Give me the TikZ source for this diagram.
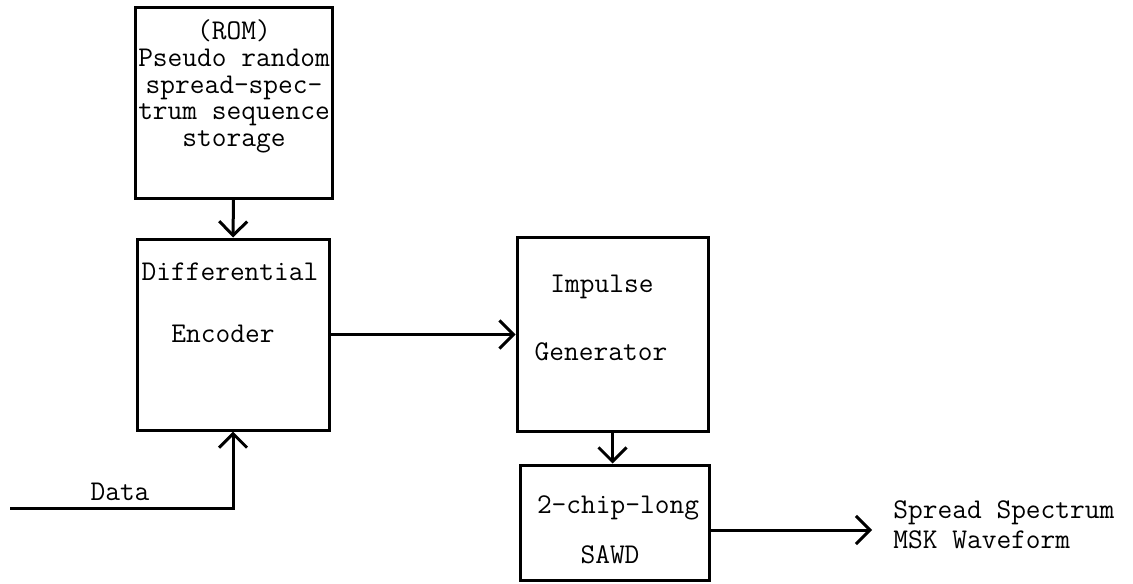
\documentclass[tikz,border=0pt]{standalone}
\usepackage{fontspec}
\usetikzlibrary{arrows.meta}
\begin{document}
\begin{tikzpicture}[x=0.5pt,y=-0.5pt,
  box/.style={draw,line width=1.5pt,inner sep=0pt},
  txt/.style={font=\ttfamily\fontsize{14.3pt}{13.4pt}\selectfont,inner sep=0pt},
  arr/.style={line width=1.5pt,-{Straight Barb[length=7pt,width=14pt,line width=1.5pt]}},
  ln/.style={line width=1.5pt}]
\useasboundingbox[fill=white] (0,0) rectangle (1133,583);
% boxes
\node[box,minimum width=98.5pt,minimum height=95pt] (rom) at (233.5,103) {};
\node[box,minimum width=96pt,minimum height=95.5pt] (diff) at (233,334.5) {};
\node[box,minimum width=95.5pt,minimum height=97pt] (imp) at (612.5,334) {};
\node[box,minimum width=94.5pt,minimum height=57.5pt] (sawd) at (614.5,522.5) {};
% texts
\node[txt,align=center] (romt) at (234,86.5) {(ROM)\\Pseudo random\\spread-spec-\\trum sequence\\storage};
\node[txt] (difft1) at (230,272) {Differential};
\node[txt] (difft2) at (223,334) {Encoder};
\node[txt] (impt1) at (602,287) {Impulse};
\node[txt] (impt2) at (601,352) {Generator};
\node[txt] (sawdt1) at (618,508) {2-chip-long};
\node[txt] (sawdt2) at (610,555) {SAWD};
\node[txt] (datat) at (120,492) {Data};
\node[txt,anchor=west,align=left,font=\ttfamily\fontsize{14.3pt}{15pt}\selectfont] (outt) at (893,525) {Spread Spectrum\\MSK Waveform};
% connectors
\coordinate (din) at (10,508);
\coordinate (out) at (872,530);
\draw[arr] (rom.south) -- (diff.north);
\draw[arr] (diff.east) -- (diff.east -| imp.west);
\draw[arr] (imp.south) -- (imp.south |- sawd.north);
\draw[arr] (sawd.east |- out) -- (out);
\draw[arr] (din) -- (din -| diff.south) -- (diff.south);
\end{tikzpicture}
\end{document}
